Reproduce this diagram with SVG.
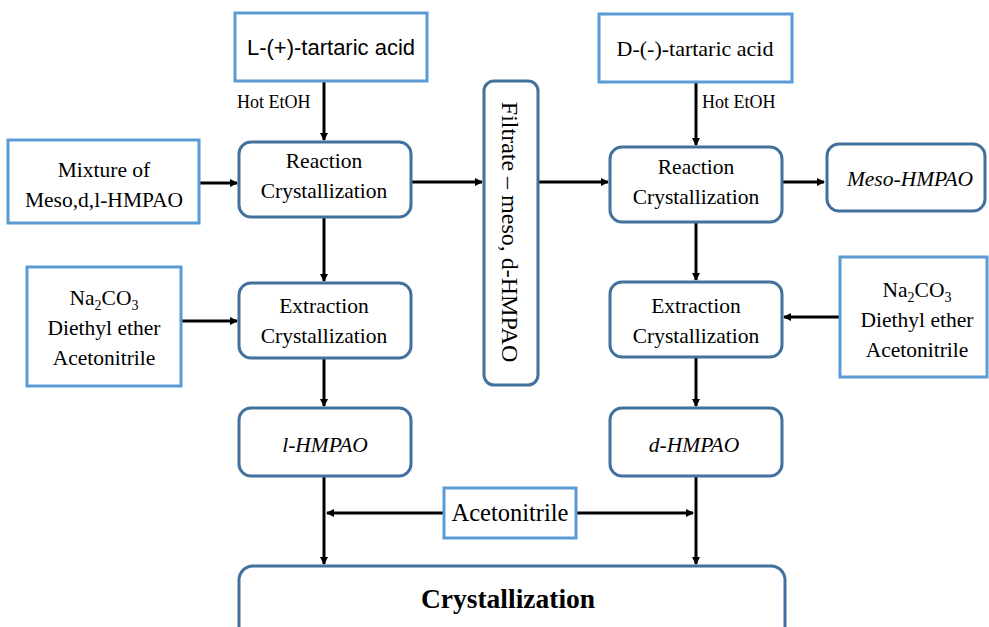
<svg xmlns="http://www.w3.org/2000/svg" width="989" height="627" viewBox="0 0 989 627">
<style>
.lb{fill:#fff;stroke:#5b9bd5;stroke-width:3}
.db{fill:#fff;stroke:#41719c;stroke-width:3}
.t{font-family:"Liberation Serif",serif;font-size:21.5px;fill:#000;text-anchor:middle}
.s{font-family:"Liberation Sans",sans-serif;font-size:22px;fill:#000;text-anchor:middle}
.sm{font-family:"Liberation Serif",serif;font-size:18px;fill:#000}
.i{font-style:italic}
.c{stroke:#000;stroke-width:3;fill:none}
</style>
<defs>
<marker id="ah" markerWidth="8" markerHeight="8" refX="7" refY="4" orient="auto" markerUnits="userSpaceOnUse" viewBox="0 0 8 8">
<path d="M0,0 L8,4 L0,8 Z" fill="#000"/>
</marker>
</defs>
<rect width="989" height="627" fill="#fff"/>
<g id="connectors">
<line class="c" x1="324" y1="82" x2="324" y2="140" marker-end="url(#ah)"/>
<line class="c" x1="199" y1="183" x2="237" y2="183" marker-end="url(#ah)"/>
<line class="c" x1="411" y1="182" x2="482" y2="182" marker-end="url(#ah)"/>
<line class="c" x1="538" y1="182" x2="608" y2="182" marker-end="url(#ah)"/>
<line class="c" x1="696" y1="82" x2="696" y2="145" marker-end="url(#ah)"/>
<line class="c" x1="782" y1="182" x2="824" y2="182" marker-end="url(#ah)"/>
<line class="c" x1="324" y1="217" x2="324" y2="281" marker-end="url(#ah)"/>
<line class="c" x1="181" y1="321" x2="237" y2="321" marker-end="url(#ah)"/>
<line class="c" x1="324" y1="358" x2="324" y2="406" marker-end="url(#ah)"/>
<line class="c" x1="696" y1="222" x2="696" y2="280" marker-end="url(#ah)"/>
<line class="c" x1="840" y1="317" x2="784" y2="317" marker-end="url(#ah)"/>
<line class="c" x1="696" y1="357" x2="696" y2="406" marker-end="url(#ah)"/>
<line class="c" x1="324" y1="477" x2="324" y2="564" marker-end="url(#ah)"/>
<line class="c" x1="696" y1="477" x2="696" y2="564" marker-end="url(#ah)"/>
<line class="c" x1="443" y1="513" x2="327" y2="513" marker-end="url(#ah)"/>
<line class="c" x1="577" y1="513" x2="693" y2="513" marker-end="url(#ah)"/>
</g>
<g id="l-tartaric">
<rect class="lb" x="235" y="13" width="192" height="68"/>
<text class="s" x="331" y="55">L-(+)-tartaric acid</text>
</g>
<text class="sm" x="237" y="108">Hot EtOH</text>
<g id="mixture">
<rect class="lb" x="8" y="140" width="191" height="83"/>
<text class="t" x="104" y="177">Mixture of</text>
<text class="t" x="104" y="207">Meso,d,l-HMPAO</text>
</g>
<g id="reaction-left">
<rect class="db" x="239" y="142" width="172" height="75" rx="12"/>
<text class="t" x="324" y="168">Reaction</text>
<text class="t" x="324" y="198">Crystallization</text>
</g>
<g id="filtrate">
<rect class="db" x="484" y="81" width="54" height="304" rx="10"/>
<text class="t" style="font-size:24px" transform="translate(502,232) rotate(90)">Filtrate – meso, d-HMPAO</text>
</g>
<g id="d-tartaric">
<rect class="lb" x="599" y="14" width="193" height="68"/>
<text class="t" style="font-size:22px" x="695" y="56">D-(-)-tartaric acid</text>
</g>
<text class="sm" x="702" y="108">Hot EtOH</text>
<g id="reaction-right">
<rect class="db" x="610" y="147" width="172" height="75" rx="12"/>
<text class="t" x="696" y="174">Reaction</text>
<text class="t" x="696" y="204">Crystallization</text>
</g>
<g id="meso">
<rect class="db" x="827" y="144" width="158" height="67" rx="12"/>
<text class="t i" x="910" y="186">Meso-HMPAO</text>
</g>
<g id="reagents-left">
<rect class="lb" x="27" y="267" width="154" height="119"/>
<text class="t" x="104" y="305">Na<tspan style="font-size:14px" dy="5">2</tspan><tspan dy="-5">CO</tspan><tspan style="font-size:14px" dy="5">3</tspan></text>
<text class="t" x="104" y="335">Diethyl ether</text>
<text class="t" x="104" y="365">Acetonitrile</text>
</g>
<g id="extraction-left">
<rect class="db" x="239" y="283" width="172" height="75" rx="12"/>
<text class="t" x="324" y="313">Extraction</text>
<text class="t" x="324" y="343">Crystallization</text>
</g>
<g id="extraction-right">
<rect class="db" x="610" y="282" width="172" height="75" rx="12"/>
<text class="t" x="696" y="313">Extraction</text>
<text class="t" x="696" y="343">Crystallization</text>
</g>
<g id="reagents-right">
<rect class="lb" x="840" y="257" width="147" height="120"/>
<text class="t" x="917" y="297">Na<tspan style="font-size:14px" dy="5">2</tspan><tspan dy="-5">CO</tspan><tspan style="font-size:14px" dy="5">3</tspan></text>
<text class="t" x="917" y="327">Diethyl ether</text>
<text class="t" x="917" y="357">Acetonitrile</text>
</g>
<g id="l-hmpao">
<rect class="db" x="239" y="408" width="172" height="68" rx="12"/>
<text class="t i" x="325" y="452">l-HMPAO</text>
</g>
<g id="d-hmpao">
<rect class="db" x="610" y="408" width="172" height="68" rx="12"/>
<text class="t i" x="694" y="452">d-HMPAO</text>
</g>
<g id="acetonitrile">
<rect class="lb" x="444" y="488" width="132" height="50"/>
<text class="t" style="font-size:24.5px" x="510" y="521">Acetonitrile</text>
</g>
<g id="crystallization">
<rect class="db" x="239" y="566" width="546" height="80" rx="14"/>
<text class="t" style="font-size:27.5px;font-weight:bold" x="508" y="608">Crystallization</text>
</g>
</svg>
